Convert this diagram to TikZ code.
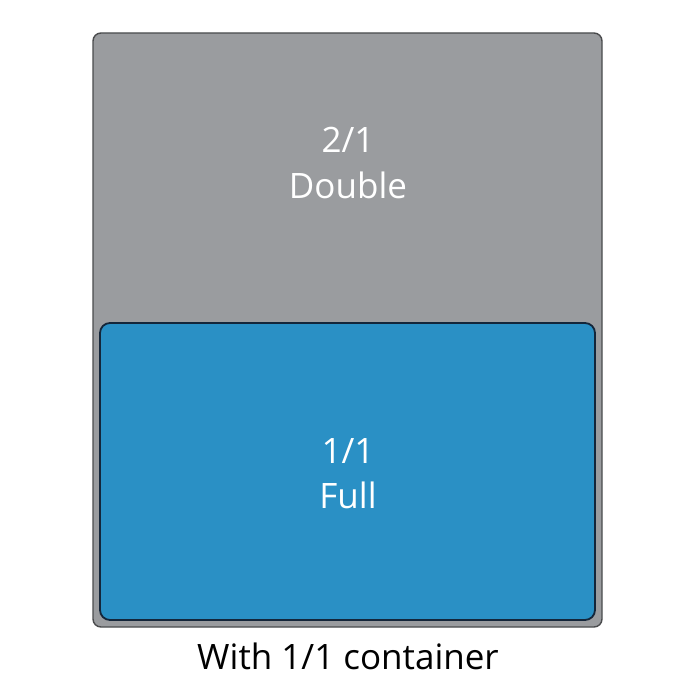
\documentclass[tikz,border=0pt]{standalone}
\usepackage{fontspec}
\setmainfont{Open Sans}
\definecolor{traygray}{HTML}{9A9C9F}
\definecolor{trayline}{HTML}{4A4B4D}
\definecolor{panblue}{HTML}{2A90C5}
\definecolor{panline}{HTML}{14263A}
\tikzset{
    tray/.style = {draw=trayline, line width=1.4pt, fill=traygray, rounded corners=8pt},
    pan/.style = {draw=panline, line width=1.8pt, fill=panblue, rounded corners=10pt},
    label/.style = {text=white, font=\fontsize{35}{45}\selectfont, align=center}
}
\begin{document}
\begin{tikzpicture}[x=1pt,y=-1pt]
    \useasboundingbox (0,0) rectangle (700,700);

    \node[tray, minimum width=509pt, minimum height=594pt] (double) at (347.5,330) {};
    \node[pan, minimum width=495pt, minimum height=297pt] (full) at (347.5,471.5) {};

    % sizes written on the pans
    \node[label] (doubletext) at (348,163) {2/1\\Double};
    \node[label] (fulltext) at (348,474) {1/1\\Full};

    \node[font=\fontsize{35}{40}\selectfont] (caption) at (348,656) {With 1/1 container};
\end{tikzpicture}
\end{document}
